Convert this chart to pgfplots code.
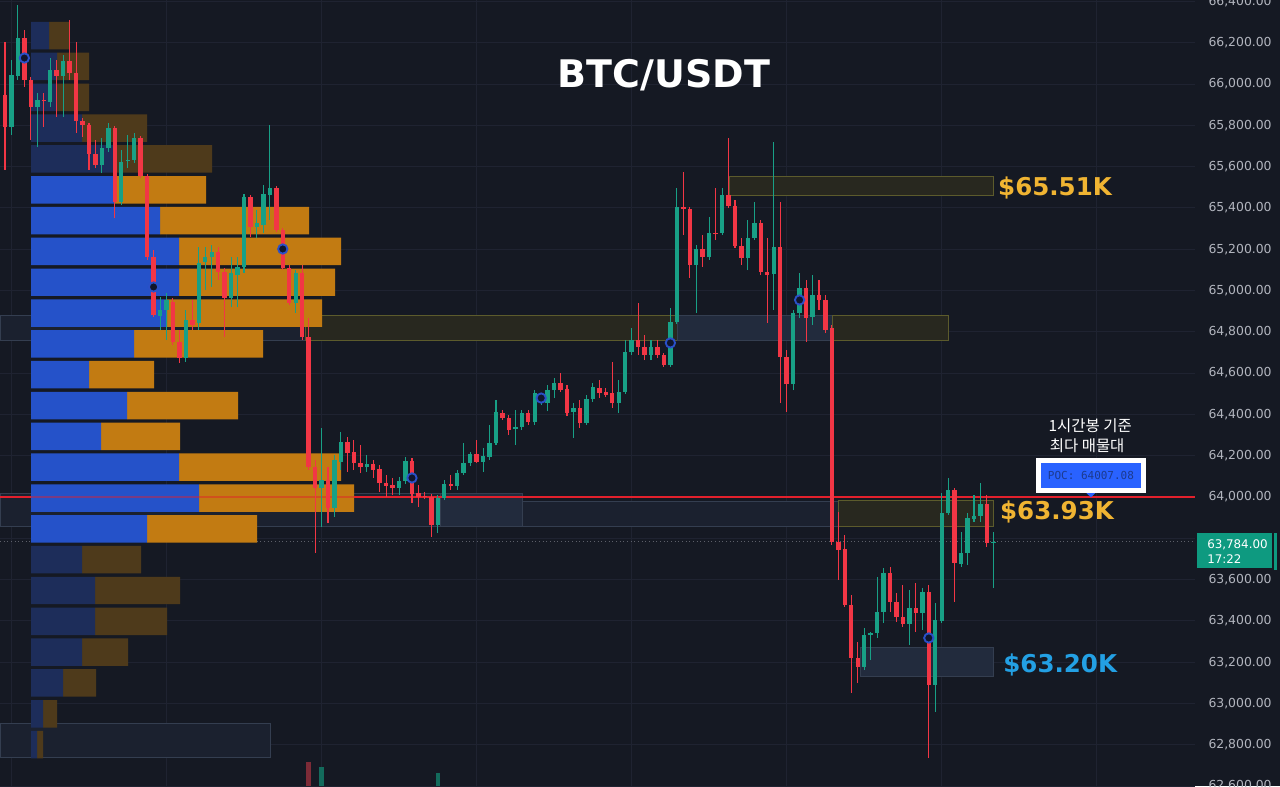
\documentclass[border=0pt]{standalone}
\usepackage{pgfplots}
\pgfplotsset{compat=1.18}
\usepackage{pgfplotstable}
\usepackage{fontspec}
\setmainfont{DejaVu Sans}
\newfontfamily\krfont{Noto Sans CJK KR}
\newfontfamily\pocfont{DejaVu Sans Mono}
\definecolor{bg}{HTML}{151923}
\definecolor{gridc}{HTML}{1F2331}
\definecolor{cgreen}{HTML}{18A086}
\definecolor{cred}{HTML}{F23645}
\definecolor{vbb}{HTML}{2552C9}
\definecolor{vob}{HTML}{C27B12}
\definecolor{vbd}{HTML}{1D2D5A}
\definecolor{vod}{HTML}{4E3A1B}
\definecolor{olivef}{HTML}{28281F}
\definecolor{olived}{HTML}{5C5B2C}
\definecolor{bluef}{HTML}{1B212F}
\definecolor{bluef2}{HTML}{222B3D}
\definecolor{blued}{HTML}{343E50}
\definecolor{gold}{HTML}{F0B432}
\definecolor{cyanl}{HTML}{23A0E4}
\definecolor{axtext}{HTML}{B2B5BE}
\definecolor{pocblue}{HTML}{2962FF}
\definecolor{poctext}{HTML}{1C3A8E}
\definecolor{pricebox}{HTML}{0E9A80}
\definecolor{markblue}{HTML}{2A50C8}
\definecolor{markfill}{HTML}{10162C}
\definecolor{pocred}{HTML}{E3202C}
\definecolor{volred}{HTML}{7D2B37}
\definecolor{volgreen}{HTML}{136B5C}

% volume profile rows: price, offset, bright blue, dim blue, bright orange, dim orange
\pgfplotstableread{
y off bb bd ob od
66234 31 0 18 0 20
66085 31 0 26 0 32
65935 31 0 26 0 32
65786 31 0 51 0 65
65637 31 0 82 0 99
65487 31 84 0 91 0
65338 31 129 0 149 0
65189 31 148 0 162 0
65040 31 148 0 156 0
64890 31 136 0 155 0
64741 31 103 0 129 0
64592 31 58 0 65 0
64442 31 96 0 111 0
64293 31 70 0 79 0
64144 31 148 0 162 0
63994 31 168 0 155 0
63845 31 116 0 110 0
63696 31 0 51 0 59
63547 31 0 64 0 85
63397 31 0 64 0 72
63248 31 0 51 0 46
63099 31 0 32 0 33
62949 31 0 12 0 14
62800 31 0 6 0 6
}\VP

% rising candles: index open high low close
\pgfplotstableread{
k o h l c
1 65792 66116 65753 66044
2 66039 66383 66020 66223
5 65889 65957 65695 65923
7 65913 66126 65889 66068
9 66039 66141 65840 66112
15 65608 65739 65569 65690
16 65690 65811 65671 65787
18 65429 65681 65414 65622
19 65627 65753 65593 65632
20 65632 65763 65618 65739
24 64877 64969 64809 64906
25 64906 64988 64760 64954
28 64673 64906 64654 64857
30 64843 65211 64809 65133
31 65138 65211 65002 65162
32 65162 65220 65017 65187
35 64964 65162 64920 65085
36 65075 65162 64920 65114
37 65114 65467 65085 65453
39 65308 65390 65254 65327
40 65317 65511 65279 65467
41 65463 65802 65341 65496
45 64940 65099 64891 65085
49 64044 64334 63855 64082
51 63947 64203 63903 64179
52 64170 64315 64131 64266
56 64145 64203 64121 64160
61 64044 64097 64010 64077
62 64077 64194 64063 64174
67 63864 64010 63826 63995
68 63995 64082 63985 64063
70 64053 64131 64034 64116
71 64116 64262 64107 64165
72 64165 64218 64150 64208
74 64170 64237 64121 64199
75 64194 64349 64179 64262
76 64262 64470 64252 64412
79 64329 64421 64252 64339
80 64339 64421 64324 64407
82 64363 64518 64349 64504
83 64470 64504 64446 64489
84 64455 64542 64416 64518
85 64518 64576 64479 64552
88 64412 64455 64286 64431
90 64358 64494 64349 64475
91 64475 64552 64460 64533
95 64455 64567 64407 64509
96 64509 64760 64499 64702
97 64702 64818 64688 64760
100 64688 64760 64663 64726
103 64639 64915 64630 64848
104 64848 65496 64838 65404
107 65124 65220 64891 65201
109 65162 65356 65148 65279
111 65279 65496 65269 65463
115 65157 65341 65099 65254
116 65254 65429 65245 65327
119 65080 65719 64906 65211
122 64547 64906 64518 64891
123 64891 65085 64867 65012
125 64872 65075 64833 64978
133 63177 63366 63162 63331
134 63331 63346 63211 63341
135 63341 63613 63317 63443
136 63443 63656 63390 63632
140 63385 63550 63283 63462
142 63438 63559 63356 63540
144 63090 63487 62959 63404
145 63400 64019 63390 63923
146 63923 64092 63913 64034
148 63676 63830 63661 63729
149 63729 63923 63671 63898
150 63893 64010 63879 63908
151 63908 64068 63879 63966
153 63779 63830 63559 63784
}\G

% falling candles: index open high low close
\pgfplotstableread{
k o h l c
0 65947 66204 65584 65792
3 66223 66262 65986 66020
4 66020 66034 65729 65889
6 65923 65957 65792 65918
8 66068 66116 65840 66039
10 66112 66310 66020 66053
11 66053 66204 65763 65821
12 65821 65835 65744 65802
13 65802 65811 65584 65661
14 65661 65729 65593 65608
17 65787 65797 65351 65429
21 65739 65748 65545 65555
22 65555 65564 65148 65162
23 65162 65196 64872 64881
26 64944 64964 64736 64751
27 64751 64809 64649 64673
29 64857 64954 64809 64833
33 65187 65211 65051 65090
34 65090 65109 64775 64964
38 65453 65463 65259 65308
42 65496 65506 65283 65293
43 65293 65303 65099 65109
44 65109 65124 64930 64940
46 65085 65124 64760 64775
47 64775 64867 64131 64145
48 64145 64179 63729 64044
50 64082 64145 63874 63947
53 64266 64291 64121 64213
54 64218 64276 64131 64165
55 64165 64252 64116 64145
57 64160 64179 64092 64131
58 64136 64155 64024 64068
59 64068 64107 64000 64053
60 64058 64092 64010 64044
63 64174 64189 63971 64015
64 64019 64058 63952 64000
65 64005 64024 63990 63998
66 64000 64015 63806 63864
69 64063 64107 64034 64053
73 64208 64276 64165 64170
77 64407 64421 64373 64383
78 64383 64397 64300 64324
81 64407 64421 64349 64363
86 64552 64601 64509 64518
87 64523 64542 64392 64407
89 64431 64470 64334 64358
92 64528 64567 64479 64504
93 64509 64528 64484 64494
94 64504 64654 64431 64455
98 64760 64940 64688 64726
99 64726 64785 64663 64688
101 64726 64760 64673 64688
102 64688 64697 64630 64639
105 65404 65574 65269 65395
106 65395 65404 65061 65124
108 65201 65269 65114 65162
110 65279 65496 65245 65274
112 65463 65739 65400 65409
113 65409 65438 65206 65216
114 65216 65254 65124 65157
117 65327 65341 65075 65090
118 65090 65254 64843 65075
120 65211 65429 64455 64678
121 64678 64712 64412 64547
124 65012 65051 64751 64867
126 64978 65051 64906 64954
127 64954 64978 64794 64809
128 64818 64833 63768 63782
129 63782 63927 63598 63743
130 63748 63816 63467 63477
131 63477 63525 63051 63220
132 63220 63298 63099 63177
137 63632 63661 63443 63491
138 63491 63535 63395 63419
139 63419 63574 63370 63385
141 63462 63584 63346 63438
143 63540 63574 62736 63090
147 64034 64044 63491 63680
152 63966 64010 63758 63777
}\R

\pgfplotsset{chartbox/.style={at={(0,0)}, anchor=south west, scale only axis,
  width=896.25pt, height=589.5pt, ymin=62600, ymax=66407}}

\begin{document}
\begin{tikzpicture}
\useasboundingbox (0,0) rectangle (960pt,589.5pt);
\fill[bg] (0,0) rectangle (960pt,589.5pt);
\clip (0,0) rectangle (960pt,589.5pt);

% ---------- grid and zones ----------
\begin{axis}[chartbox, xmin=0, xmax=1195,
  axis line style={draw=none}, major tick length=0pt,
  xtick={11.5,166.5,321.5,476.5,631.6,786.6,941.6,1096.6},
  ytick={62600,62800,...,66400},
  xticklabels={}, yticklabels={},
  grid=major, major grid style={gridc, line width=0.75pt}]
\filldraw[fill=olivef, draw=olived, line width=0.75pt] (729,65458) rectangle (993,65550);
\filldraw[fill=bluef, draw=blued, line width=0.75pt] (0,64760) rectangle (305,64877);
\filldraw[fill=olivef, draw=olived, line width=0.75pt] (305,64760) rectangle (677,64877);
\filldraw[fill=bluef2, draw=blued, line width=0.75pt] (677,64760) rectangle (832,64877);
\filldraw[fill=olivef, draw=olived, line width=0.75pt] (832,64760) rectangle (948,64877);
\filldraw[fill=bluef, draw=blued, line width=0.75pt] (0,63855) rectangle (522,64015);
\filldraw[fill=bluef2, draw=blued, line width=0.75pt] (440,63855) rectangle (522,64015);
\filldraw[fill=bluef, draw=blued, line width=0.75pt] (522,63855) rectangle (838,63976);
\filldraw[fill=olivef, draw=olived, line width=0.75pt] (838,63855) rectangle (993,63985);
\filldraw[fill=bluef2, draw=blued, line width=0.75pt] (860,63128) rectangle (993,63269);
\filldraw[fill=bluef, draw=blued, line width=0.75pt] (0,62736) rectangle (270,62905);
\draw[axtext!45!bg, line width=0.75pt, dotted] (0,63784) -- (1195,63784);
\end{axis}

% ---------- volume profile ----------
\begin{axis}[chartbox, xmin=0, xmax=1195, hide axis, xbar stacked, bar width=133]
\addplot[fill=none, draw=none] table[x=off, y=y]{\VP};
\addplot[fill=vbb, draw=none] table[x=bb, y=y]{\VP};
\addplot[fill=vbd, draw=none] table[x=bd, y=y]{\VP};
\addplot[fill=vob, draw=none] table[x=ob, y=y]{\VP};
\addplot[fill=vod, draw=none] table[x=od, y=y]{\VP};
\end{axis}

% ---------- price axis: candles, markers, labels ----------
\begin{axis}[chartbox, xmin=-0.774, xmax=184.21,
  axis line style={draw=none}, major tick length=0pt,
  xtick=\empty,
  ytick={62600,62800,63000,63200,63400,63600,64000,64200,64400,64600,64800,65000,65200,65400,65600,65800,66000,66200,66400},
  scaled y ticks=false,
  yticklabel pos=right,
  yticklabel style={font=\fontsize{9.3}{10}\selectfont, text=axtext, anchor=west, xshift=6.6pt},
  /pgf/number format/.cd, fixed, fixed zerofill, precision=2, 1000 sep={,}, assume math mode=true]
% POC line (faint where it crosses the profile)
\draw[pocred, line width=1.5pt] (-0.774,64002) -- (4.02,64002);
\draw[pocred, opacity=0.45, line width=1.5pt] (4.02,64002) -- (54.0,64002);
\draw[pocred, line width=1.5pt] (54.0,64002) -- (184.21,64002);
% bottom volume bars
\addplot[draw=none, mark=none, forget plot, error bars/.cd, y dir=plus, y explicit, error mark=none,
  error bar style={draw=volred, line width=3.3pt}]
  coordinates {(47,62600) +- (0,117)};
\addplot[draw=none, mark=none, forget plot, error bars/.cd, y dir=plus, y explicit, error mark=none,
  error bar style={draw=volgreen, line width=3.3pt}]
  coordinates {(49,62600) +- (0,92) (67,62600) +- (0,63)};
% wicks
\addplot[draw=none, mark=none, forget plot, error bars/.cd, y dir=plus, y explicit, error mark=none,
  error bar style={draw=cgreen, line width=0.8pt}]
  table[x=k, y=l, y error expr=\thisrow{h}-\thisrow{l}]{\G};
\addplot[draw=none, mark=none, forget plot, error bars/.cd, y dir=plus, y explicit, error mark=none,
  error bar style={draw=cred, line width=0.8pt}]
  table[x=k, y=l, y error expr=\thisrow{h}-\thisrow{l}]{\R};
% bodies
\addplot[draw=none, mark=none, forget plot, error bars/.cd, y dir=plus, y explicit, error mark=none,
  error bar style={draw=cgreen, line width=3.3pt}]
  table[x=k, y=o, y error expr=\thisrow{c}-\thisrow{o}]{\G};
\addplot[draw=none, mark=none, forget plot, error bars/.cd, y dir=plus, y explicit, error mark=none,
  error bar style={draw=cred, line width=3.3pt}]
  table[x=k, y=c, y error expr=\thisrow{o}-\thisrow{c}]{\R};
% session markers
\addplot[only marks, mark=*, mark size=3.5pt, mark options={fill=markfill, draw=markblue, line width=1.4pt}]
  coordinates {(3,66126) (23,65017) (43,65201) (63,64092) (83,64479) (103,64746) (123,64954) (143,63317)};
% title and labels
\node[anchor=base, text=white, font=\fontsize{28.5}{30}\selectfont\bfseries] at (102.0,65984) {BTC/USDT};
\node[anchor=base west, inner sep=0pt, text=gold, font=\fontsize{18.4}{20}\selectfont\bfseries] at (153.7,65460) {\$65.51K};
\node[anchor=base west, inner sep=0pt, text=gold, font=\fontsize{18.4}{20}\selectfont\bfseries] at (154.0,63889) {\$63.93K};
\node[anchor=base west, inner sep=0pt, text=cyanl, font=\fontsize{18.4}{20}\selectfont\bfseries] at (154.5,63148) {\$63.20K};
\node[anchor=base west, inner sep=0pt, text=white, font=\krfont\fontsize{11.6}{12}\selectfont] at (161.5,64315) {1시간봉 기준};
\node[anchor=base west, inner sep=0pt, text=white, font=\krfont\fontsize{11.6}{12}\selectfont] at (161.7,64218) {최다 매물대};
\fill[white] (159.6,64019) rectangle (176.6,64189);
\fill[pocblue] (160.4,64044) rectangle (175.9,64165);
\node[text=poctext, font=\pocfont\fontsize{8.25}{9}\selectfont, inner sep=0pt] at (168.1,64104) {POC: 64007.08};
\fill[pocblue] (167.4,64019) -- (168.8,64019) -- (168.1,63998) -- cycle;
\end{axis}

% ---------- last price tag on the scale ----------
\begin{scope}[x=0.75pt, y=-0.75pt, yshift=589.5pt]
\fill[pricebox] (1197,533) rectangle (1272,568);
\fill[pricebox] (1274,533) rectangle (1277,570);
\node[anchor=base west, inner sep=0pt, text=white, font=\fontsize{8.9}{9}\selectfont] at (1207,548) {63,784.00};
\node[anchor=base west, inner sep=0pt, text=white, font=\fontsize{8.9}{9}\selectfont] at (1207,563) {17:22};
\end{scope}
\end{tikzpicture}
\end{document}
